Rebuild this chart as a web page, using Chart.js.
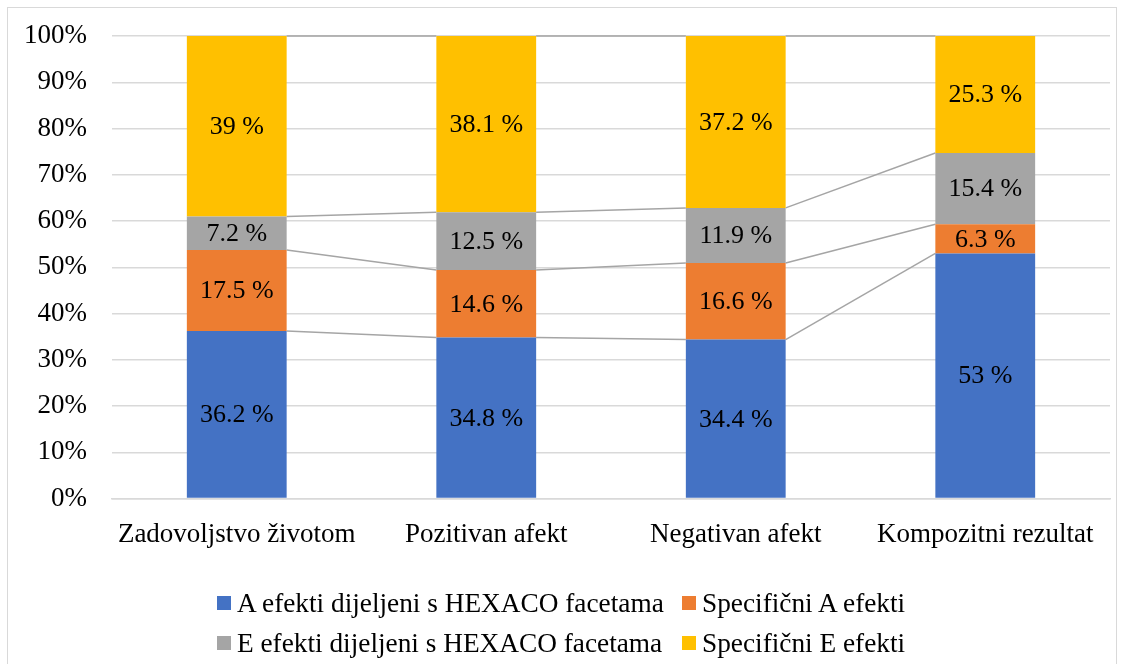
<!DOCTYPE html>
<html>
<head>
<meta charset="utf-8">
<script src="https://cdn.jsdelivr.net/npm/chart.js@4.4.1/dist/chart.umd.min.js"></script>
<style>
  html, body { margin: 0; padding: 0; background: #fff; }
  #wrap { position: relative; width: 1126px; height: 664px; overflow: hidden; }
  #frame { position: absolute; left: 7px; top: 7px; width: 1110px; height: 700px; border: 1px solid #d9d9d9; box-sizing: border-box; }
  canvas { position: absolute; left: 0; top: 0; }
  #legend { position: absolute; left: 217px; top: 583px; display: grid; grid-template-columns: 465px auto; row-gap: 0; font-family: "Liberation Serif", "Times New Roman", serif; font-size: 27.3px; color: #000; }
  .item { height: 40px; display: flex; align-items: center; white-space: nowrap; }
  .box { width: 14px; height: 14px; margin-right: 6px; flex: none; }
</style>
</head>
<body>
<div id="wrap">
  <div id="frame"></div>
  <canvas id="myBarChart" width="1126" height="664"></canvas>
  <div id="legend"></div>
</div>
<script>
// kategorije i vrijednosti (%)
const kategorije = ['Zadovoljstvo životom', 'Pozitivan afekt', 'Negativan afekt', 'Kompozitni rezultat'];
const nazivi = ['A efekti dijeljeni s HEXACO facetama', 'Specifični A efekti', 'E efekti dijeljeni s HEXACO facetama', 'Specifični E efekti'];
const aDijeljeni = [36.2, 34.8, 34.4, 53];
const aSpecificni = [17.5, 14.6, 16.6, 6.3];
const eDijeljeni = [7.2, 12.5, 11.9, 15.4];
const eSpecificni = [39, 38.1, 37.2, 25.3];
const boje = ['#4472C4', '#ED7D31', '#A5A5A5', '#FFC000'];
const yTicks = [0, 10, 20, 30, 40, 50, 60, 70, 80, 90, 100];

const serije = [aDijeljeni, aSpecificni, eDijeljeni, eSpecificni];
// 100% stacked - normalizacija po kategoriji
const sume = kategorije.map((k, i) => serije.reduce((s, a) => s + a[i], 0));

const font = '"Liberation Serif", "Times New Roman", serif';

const data = {
    labels: kategorije,
    datasets: serije.map((vals, d) => ({
        label: nazivi[d],
        data: vals.map((v, i) => v / sume[i] * 100),
        raw: vals,
        backgroundColor: boje[d],
        borderWidth: 0,
        barPercentage: 0.4,
        categoryPercentage: 1.0
    }))
};

// linije serija izmedju stupaca + oznake
const seriesLines = {
    id: 'seriesLines',
    beforeDatasetsDraw(chart) {
        const ctx = chart.ctx;
        ctx.save();
        ctx.strokeStyle = '#a5a5a5';
        ctx.lineWidth = 1.5;
        chart.data.datasets.forEach((ds, d) => {
            const bars = chart.getDatasetMeta(d).data;
            for (let i = 0; i < bars.length - 1; i++) {
                const a = bars[i], b = bars[i + 1];
                ctx.beginPath();
                ctx.moveTo(a.x + a.width / 2, a.y);
                ctx.lineTo(b.x - b.width / 2, b.y);
                ctx.stroke();
            }
        });
        ctx.restore();
    },
    afterDatasetsDraw(chart) {
        const ctx = chart.ctx;
        ctx.save();
        ctx.font = '26px ' + font;
        ctx.fillStyle = '#000';
        ctx.textAlign = 'center';
        ctx.textBaseline = 'middle';
        chart.data.datasets.forEach((ds, d) => {
            chart.getDatasetMeta(d).data.forEach((bar, i) => {
                ctx.fillText(ds.raw[i] + ' %', bar.x, (bar.y + bar.base) / 2 + 1);
            });
        });
        ctx.restore();
    }
};

const config = {
    type: 'bar',
    data: data,
    options: {
        responsive: false,
        animation: false,
        layout: { padding: { left: 26, right: 16, top: 0, bottom: 93 } },
        plugins: {
            legend: { display: false },
            tooltip: { enabled: false }
        },
        scales: {
            x: {
                stacked: true,
                grid: { display: false, drawTicks: false },
                border: { color: '#d9d9d9', width: 1.5 },
                ticks: { color: '#000', font: { family: font, size: 27 }, padding: 20, maxRotation: 0, autoSkip: false }
            },
            y: {
                stacked: true,
                min: 0,
                max: 100,
                afterBuildTicks: (s) => { s.ticks = yTicks.map(v => ({ value: v })); },
                afterFit: (s) => { s.width = 86; s.paddingTop = 36; s.paddingBottom = 20; },
                grid: { color: '#d9d9d9', lineWidth: 1.5, drawTicks: false },
                border: { display: false },
                ticks: { color: '#000', font: { family: font, size: 27 }, padding: 25, callback: v => v + '%' }
            }
        }
    },
    plugins: [seriesLines]
};

const leg = document.getElementById('legend');
[0, 1, 2, 3].forEach(d => {
    const el = document.createElement('div');
    el.className = 'item';
    el.innerHTML = '<span class="box" style="background:' + boje[d] + '"></span><span>' + nazivi[d] + '</span>';
    leg.appendChild(el);
});

new Chart(document.getElementById('myBarChart').getContext('2d'), config);
</script>
</body>
</html>
